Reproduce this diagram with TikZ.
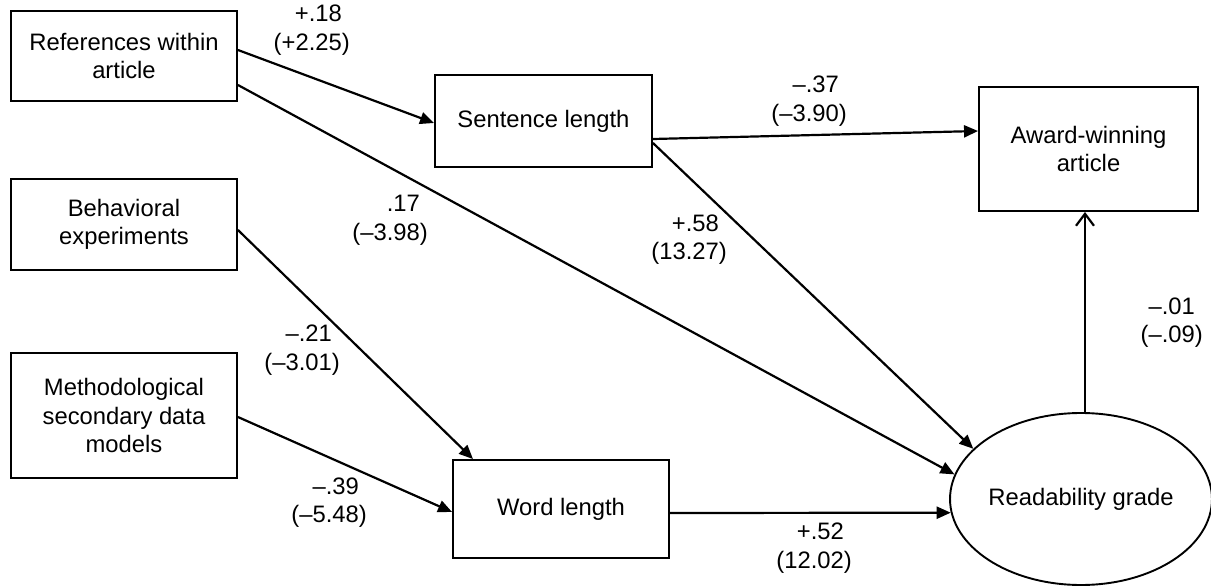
\documentclass[tikz,border=0pt]{standalone}
\usepackage{fontspec}
\setmainfont{Liberation Sans}
\usetikzlibrary{arrows.meta,shapes.geometric}
\begin{document}
\begin{tikzpicture}[x=1pt,y=-1pt,
  every node/.style={font=\fontsize{23.8}{28.5}\selectfont, inner sep=0pt},
  varbox/.style={draw, line width=1.9pt, rectangle, align=center},
  latent/.style={draw, line width=1.9pt, ellipse, align=center, minimum width=240pt, minimum height=172pt},
  coef/.style={anchor=east, align=right},
  path/.style={line width=2.2pt, -{Triangle[length=14pt,width=12pt]}},
  openpath/.style={line width=2.2pt, -{Straight Barb[length=12pt,width=18pt,line width=2.2pt]}}
]
\useasboundingbox[fill=white] (0,0) rectangle (1211,586);

% variables
\node[varbox, minimum width=226pt, minimum height=90pt] (refs) at (124,56) {References within\\article};
\node[varbox, minimum width=226pt, minimum height=91pt] (behav) at (124,224.5) {Behavioral\\experiments};
\node[varbox, minimum width=226pt, minimum height=125pt] (meth) at (124,415.5) {Methodological\\secondary data\\models};
\node[varbox, minimum width=217pt, minimum height=92pt] (sent) at (543.5,121) {Sentence length};
\node[varbox, minimum width=216pt, minimum height=98pt] (word) at (561,509) {Word length};
\node[varbox, minimum width=219pt, minimum height=124pt] (award) at (1088.5,149) {Award-winning\\article};
\node[latent] (read) at (1081,499) {Readability grade};

% paths
\draw[path] ([yshift=6pt]refs.east) -- ([yshift=-2pt]sent.west);
\draw[path] ([yshift=-29pt]refs.east) -- (read.169.8);
\draw[path] ([yshift=-18pt]sent.east) -- ([yshift=18pt]award.west);
\draw[path] ([yshift=-22pt]sent.east) -- (read.155.7);
\draw[path] ([yshift=-5.5pt]behav.east) -- ([xshift=-88pt]word.north);
\draw[path] ([yshift=-1.5pt]meth.east) -- ([yshift=-3pt]word.west);
\draw[path] ([yshift=-4pt]word.east) -- (read.186.8);
\draw[openpath] ([xshift=4pt]read.north) -- ([xshift=4pt]read.north |- award.south);

% coefficients
\node[coef] (c1) at (350,30) {+.18\phantom{)}\\(+2.25)};
\node[coef] (c2) at (847,101) {–.37\phantom{)}\\(–3.90)};
\node[coef] (c3) at (428,220) {.17\phantom{)}\\(–3.98)};
\node[coef] (c4) at (727,239.5) {+.58\phantom{)}\\(13.27)};
\node[coef] (c5) at (340,350) {–.21\phantom{)}\\(–3.01)};
\node[coef] (c6) at (367,502.5) {–.39\phantom{)}\\(–5.48)};
\node[coef] (c7) at (852,548) {+.52\phantom{)}\\(12.02)};
\node[coef] (c8) at (1203,322.5) {–.01\phantom{)}\\(–.09)};
\end{tikzpicture}
\end{document}
